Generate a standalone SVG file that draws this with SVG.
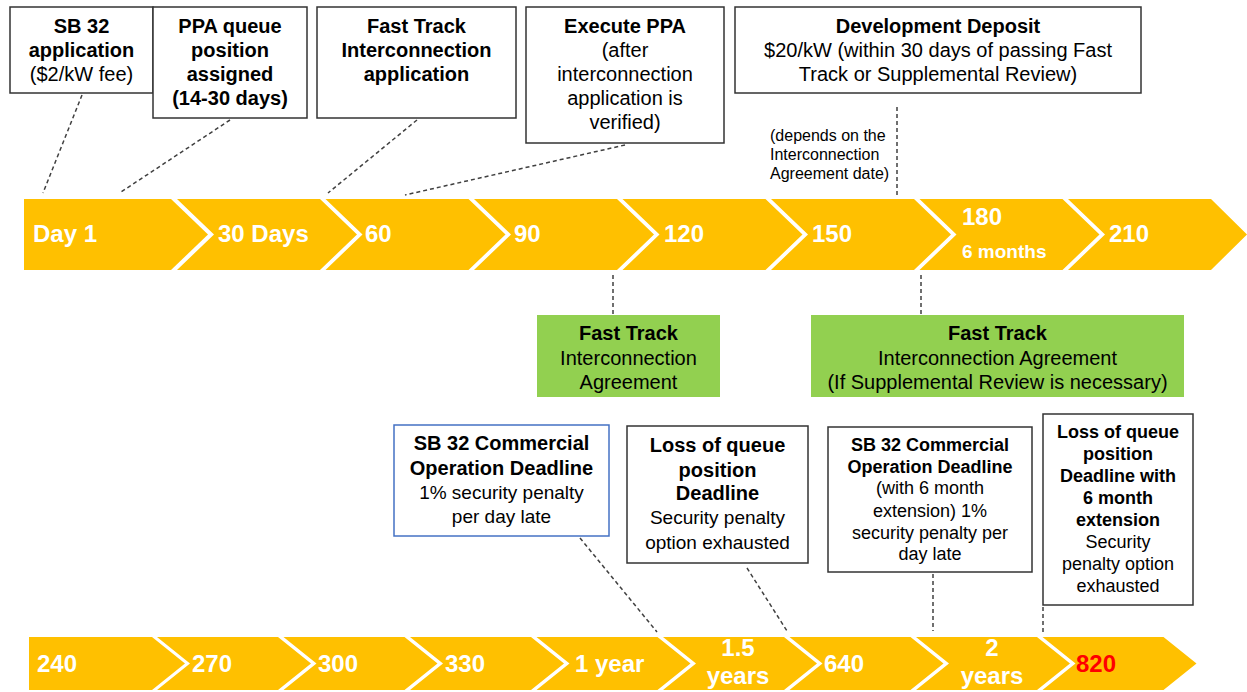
<svg xmlns="http://www.w3.org/2000/svg" width="1247" height="692" viewBox="0 0 1247 692">
<style>
.box{fill:#fff;stroke:#333;stroke-width:1.5}
.gbox{fill:#92D050;stroke:none}
.bbox{fill:#fff;stroke:#4472C4;stroke-width:1.5}
.chev{fill:#FFC000;stroke:none}
.t{font-family:"Liberation Sans",Arial,sans-serif;fill:#000;text-anchor:middle}
.b{font-weight:bold}
.s20{font-size:20px}
.s18{font-size:18px}
.ct{font-family:"Liberation Sans",Arial,sans-serif;fill:#fff;font-weight:bold;font-size:24px}
.dash{stroke:#404040;stroke-width:1.5;stroke-dasharray:4 3;fill:none}
</style>
<rect width="1247" height="692" fill="#fff"/>
<g id="row1">
<polygon class="chev" points="24,199 171,199 208,234.5 171,270 24,270"/>
<polygon class="chev" points="177,199 320,199 357,234.5 320,270 177,270 214,234.5"/>
<polygon class="chev" points="325.5,199 468.5,199 505.5,234.5 468.5,270 325.5,270 362.5,234.5"/>
<polygon class="chev" points="474,199 617,199 654,234.5 617,270 474,270 511,234.5"/>
<polygon class="chev" points="622.5,199 765.5,199 802.5,234.5 765.5,270 622.5,270 659.5,234.5"/>
<polygon class="chev" points="771,199 914,199 951,234.5 914,270 771,270 808,234.5"/>
<polygon class="chev" points="919.5,199 1062.5,199 1099.5,234.5 1062.5,270 919.5,270 956.5,234.5"/>
<polygon class="chev" points="1068,199 1211,199 1247,234.5 1211,270 1068,270 1105,234.5"/>
<text class="ct" x="33" y="242">Day 1</text>
<text class="ct" x="218" y="242">30 Days</text>
<text class="ct" x="365" y="242">60</text>
<text class="ct" x="514" y="242">90</text>
<text class="ct" x="664" y="242">120</text>
<text class="ct" x="812" y="242">150</text>
<text class="ct" x="962" y="225">180</text>
<text class="ct" x="962" y="258" style="font-size:19px">6 months</text>
<text class="ct" x="1109" y="242">210</text>
</g>
<g id="row2">
<polygon class="chev" points="29,637 152,637 185,663.5 152,690 29,690"/>
<polygon class="chev" points="157,637 278,637 311,663.5 278,690 157,690 190,663.5"/>
<polygon class="chev" points="283.5,637 404.5,637 437.5,663.5 404.5,690 283.5,690 316.5,663.5"/>
<polygon class="chev" points="410,637 531,637 564,663.5 531,690 410,690 443,663.5"/>
<polygon class="chev" points="536.5,637 657.5,637 690.5,663.5 657.5,690 536.5,690 569.5,663.5"/>
<polygon class="chev" points="663,637 784,637 817,663.5 784,690 663,690 696,663.5"/>
<polygon class="chev" points="789.5,637 910.5,637 943.5,663.5 910.5,690 789.5,690 822.5,663.5"/>
<polygon class="chev" points="916,637 1037,637 1070,663.5 1037,690 916,690 949,663.5"/>
<polygon class="chev" points="1042.5,637 1163.5,637 1196.5,663.5 1163.5,690 1042.5,690 1075.5,663.5"/>
<text class="ct" x="37" y="672">240</text>
<text class="ct" x="192" y="672">270</text>
<text class="ct" x="318" y="672">300</text>
<text class="ct" x="445" y="672">330</text>
<text class="ct" x="575" y="672">1 year</text>
<text class="ct" x="738" y="656" text-anchor="middle">1.5</text>
<text class="ct" x="738" y="684" text-anchor="middle">years</text>
<text class="ct" x="824" y="672">640</text>
<text class="ct" x="992" y="656" text-anchor="middle">2</text>
<text class="ct" x="992" y="684" text-anchor="middle">years</text>
<text class="ct" x="1076" y="672" style="fill:#FF0000">820</text>
</g>
<g id="connectors">
<line class="dash" x1="82" y1="95" x2="43" y2="193"/>
<line class="dash" x1="230" y1="120" x2="121" y2="192"/>
<line class="dash" x1="417" y1="120" x2="328" y2="193"/>
<line class="dash" x1="625" y1="145" x2="405" y2="195"/>
<line class="dash" x1="897" y1="107" x2="897" y2="197"/>
<line class="dash" x1="613" y1="275" x2="613" y2="315"/>
<line class="dash" x1="921" y1="275" x2="921" y2="315"/>
<line class="dash" x1="580" y1="538" x2="657" y2="632"/>
<line class="dash" x1="747" y1="568" x2="787" y2="631"/>
<line class="dash" x1="933" y1="574" x2="933" y2="631"/>
<line class="dash" x1="1043" y1="607" x2="1043" y2="635"/>
</g>
<g id="n-sb32app">
<rect class="box" x="10" y="7" width="143" height="86"/>
<text class="t b s20" x="81.5" y="33">SB 32</text>
<text class="t b s20" x="81.5" y="57">application</text>
<text class="t s20" x="81.5" y="81">($2/kW fee)</text>
</g>
<g id="n-ppaqueue">
<rect class="box" x="153" y="7" width="154" height="111"/>
<text class="t b s20" x="230" y="33">PPA queue</text>
<text class="t b s20" x="230" y="57">position</text>
<text class="t b s20" x="230" y="81">assigned</text>
<text class="t b s20" x="230" y="105">(14-30 days)</text>
</g>
<g id="n-fasttrackapp">
<rect class="box" x="317" y="7" width="199" height="111"/>
<text class="t b s20" x="416.5" y="33">Fast Track</text>
<text class="t b s20" x="416.5" y="57">Interconnection</text>
<text class="t b s20" x="416.5" y="81">application</text>
</g>
<g id="n-executeppa">
<rect class="box" x="526" y="7" width="198" height="136"/>
<text class="t b s20" x="625" y="33">Execute PPA</text>
<text class="t s20" x="625" y="57">(after</text>
<text class="t s20" x="625" y="81">interconnection</text>
<text class="t s20" x="625" y="105">application is</text>
<text class="t s20" x="625" y="129">verified)</text>
</g>
<g id="n-devdeposit">
<rect class="box" x="735" y="7" width="406" height="86"/>
<text class="t b s20" x="938" y="33">Development Deposit</text>
<text class="t s20" x="938" y="57">$20/kW (within 30 days of passing Fast</text>
<text class="t s20" x="938" y="81">Track or Supplemental Review)</text>
</g>
<g id="n-depends">
<text class="t" x="770" y="141" style="font-size:16px;text-anchor:start">(depends on the</text>
<text class="t" x="770" y="160" style="font-size:16px;text-anchor:start">Interconnection</text>
<text class="t" x="770" y="179" style="font-size:16px;text-anchor:start">Agreement date)</text>
</g>
<g id="n-ftia">
<rect class="gbox" x="537" y="315" width="183" height="82"/>
<text class="t b s20" x="628.5" y="340">Fast Track</text>
<text class="t s20" x="628.5" y="365">Interconnection</text>
<text class="t s20" x="628.5" y="389">Agreement</text>
</g>
<g id="n-ftia2">
<rect class="gbox" x="811" y="315" width="373" height="82"/>
<text class="t b s20" x="997.5" y="340">Fast Track</text>
<text class="t s20" x="997.5" y="365">Interconnection Agreement</text>
<text class="t s20" x="997.5" y="389">(If Supplemental Review is necessary)</text>
</g>
<g id="n-sb32cod">
<rect class="bbox" x="394" y="425" width="215" height="111"/>
<text class="t b s20" x="501.5" y="450">SB 32 Commercial</text>
<text class="t b s20" x="501.5" y="475">Operation Deadline</text>
<text class="t" x="501.5" y="499" style="font-size:19px">1% security penalty</text>
<text class="t" x="501.5" y="523" style="font-size:19px">per day late</text>
</g>
<g id="n-lossqueue">
<rect class="box" x="627" y="426" width="181" height="137"/>
<text class="t b s20" x="717.5" y="452">Loss of queue</text>
<text class="t b s20" x="717.5" y="477">position</text>
<text class="t b s20" x="717.5" y="500">Deadline</text>
<text class="t" x="717.5" y="524" style="font-size:19px">Security penalty</text>
<text class="t" x="717.5" y="549" style="font-size:19px">option exhausted</text>
</g>
<g id="n-sb32cod-ext">
<rect class="box" x="828" y="427" width="204" height="145"/>
<text class="t b s18" x="930" y="451">SB 32 Commercial</text>
<text class="t b s18" x="930" y="473">Operation Deadline</text>
<text class="t s18" x="930" y="494">(with 6 month</text>
<text class="t s18" x="930" y="517">extension) 1%</text>
<text class="t s18" x="930" y="539">security penalty per</text>
<text class="t s18" x="930" y="560">day late</text>
</g>
<g id="n-lossqueue-ext">
<rect class="box" x="1043" y="414" width="150" height="191"/>
<text class="t b s18" x="1118" y="438">Loss of queue</text>
<text class="t b s18" x="1118" y="460">position</text>
<text class="t b s18" x="1118" y="482">Deadline with</text>
<text class="t b s18" x="1118" y="504">6 month</text>
<text class="t b s18" x="1118" y="526">extension</text>
<text class="t s18" x="1118" y="548">Security</text>
<text class="t s18" x="1118" y="570">penalty option</text>
<text class="t s18" x="1118" y="592">exhausted</text>
</g>
</svg>
